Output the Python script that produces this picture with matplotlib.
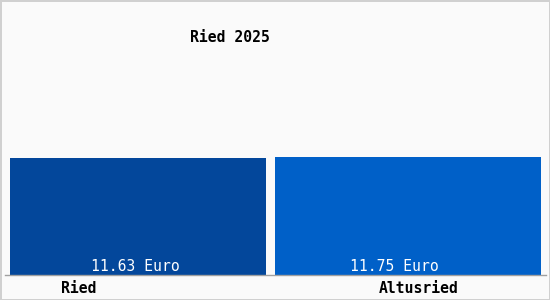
import matplotlib
matplotlib.use("Agg")
import matplotlib.pyplot as plt

# wages per hour
places = ["Ried", "Altusried"]
values = [11.63, 11.75]
labels = ["11.63 Euro", "11.75 Euro"]
colors = ["#03479b", "#0060c8"]
title = "Ried 2025"

plt.rcParams['font.family'] = ['DejaVu Sans Mono']

fig = plt.figure(figsize=(5.5, 3), dpi=100, facecolor="#fafafa",
                 edgecolor="#d0d0d0", linewidth=2)
# axes area in figure pixels: x 5..546, y 25..275 (from top)
ax = fig.add_axes([5/550, 25/300, 541/550, 250/300])
ax.set_facecolor("#fafafa")

x = range(len(places))
ax.bar(x, values, width=[256/270, 266/270], color=colors)
ax.set_xlim((5-138)/270, (546-138)/270)
ax.set_ylim(0, 250/10.06)

label_shift = [-0.01, -0.05]
for i, lab in enumerate(labels):
    ax.text(i + label_shift[i], 0.05, lab, ha="center", va="bottom",
            color="white", fontsize=10.6)

ax.set_xticks([-0.22, 1.04])
ax.set_xticklabels(places, fontsize=10.6, fontweight="bold")
ax.tick_params(axis="x", length=0, pad=4)
ax.set_yticks([])
for s in ["top", "left", "right"]:
    ax.spines[s].set_visible(False)
ax.spines["bottom"].set_color("#a0a0a0")
ax.spines["bottom"].set_linewidth(1)

fig.text(230/550, 1 - 38/300, title, ha="center", va="center",
         fontsize=10.6, fontweight="bold")

fig.savefig("out.png", dpi=100, facecolor=fig.get_facecolor(),
            edgecolor=fig.get_edgecolor())
